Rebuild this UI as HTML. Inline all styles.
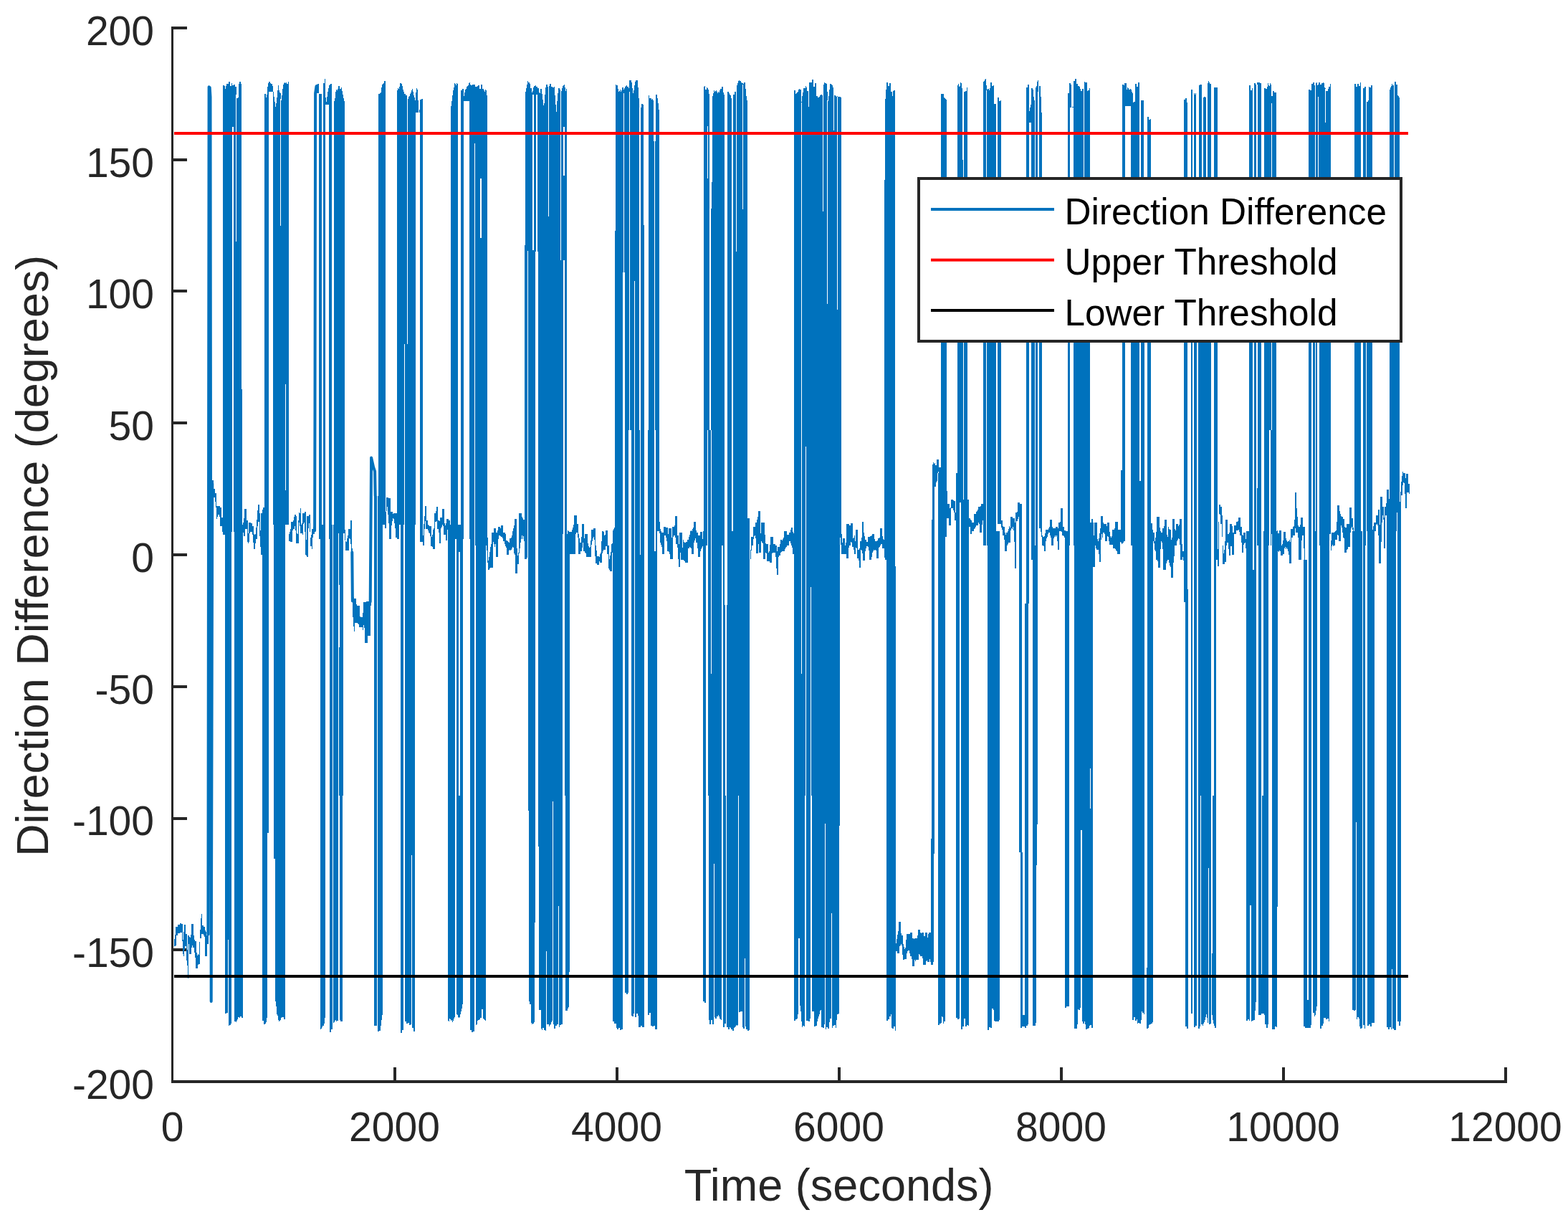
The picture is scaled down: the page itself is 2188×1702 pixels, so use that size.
<!DOCTYPE html>
<html lang="en">
<head>
<meta charset="utf-8">
<title>Direction Difference</title>
<style>
html,body{margin:0;padding:0;background:#fff;}
body{width:2188px;height:1702px;overflow:hidden;}
svg{display:block;}
text{font-family:"Liberation Sans",sans-serif;}
</style>
</head>
<body>
<svg width="2188" height="1702" viewBox="0 0 2188 1702">
<rect width="2188" height="1702" fill="#fff"/>
<g fill="#262626" shape-rendering="crispEdges">
<rect x="239" y="37" width="3" height="1474"/>
<rect x="239" y="1507" width="1864" height="4"/>
<rect x="239" y="1507" width="22" height="4"/>
<rect x="239" y="1323" width="22" height="4"/>
<rect x="239" y="1140" width="22" height="4"/>
<rect x="239" y="956" width="22" height="4"/>
<rect x="239" y="772" width="22" height="4"/>
<rect x="239" y="588" width="22" height="4"/>
<rect x="239" y="404" width="22" height="4"/>
<rect x="239" y="221" width="22" height="4"/>
<rect x="239" y="37" width="22" height="4"/>
<rect x="549" y="1489" width="4" height="22"/>
<rect x="859" y="1489" width="4" height="22"/>
<rect x="1169" y="1489" width="4" height="22"/>
<rect x="1479" y="1489" width="4" height="22"/>
<rect x="1789" y="1489" width="4" height="22"/>
<rect x="2099" y="1489" width="4" height="22"/>
</g>
<path fill="none" stroke="#0072BD" stroke-width="1" shape-rendering="crispEdges" d="M243.5 1310V1320M244.5 1304V1320M245.5 1293V1319M246.5 1293V1305M247.5 1293V1305M248.5 1290V1302M249.5 1290V1302M250.5 1290V1302M251.5 1288V1301M252.5 1288V1301M253.5 1289V1301M254.5 1289V1313M255.5 1311V1331M256.5 1300V1334M257.5 1290V1325M258.5 1290V1320M259.5 1303V1320M260.5 1303V1340M261.5 1325V1347M262.5 1305V1365M263.5 1305V1317M264.5 1307V1331M265.5 1308V1331M266.5 1304V1331M267.5 1289V1322M268.5 1289V1319M269.5 1289V1322M270.5 1305V1322M271.5 1311V1329M272.5 1313V1336M273.5 1313V1351M274.5 1329V1351M275.5 1333V1351M276.5 1331V1346M277.5 1332V1345M278.5 1314V1345M279.5 1297V1309M280.5 1281V1309M281.5 1275V1303M282.5 1291V1303M283.5 1291V1303M284.5 1293V1305M285.5 1293V1307M286.5 1298V1334M287.5 1300V1334M288.5 1305V1334M289.5 1305V1317M290.5 1305V1317M296.5 670V680M297.5 670V687M298.5 682V694M299.5 682V694M300.5 688V700M301.5 688V708M302.5 706V724M303.5 706V721M304.5 706V718M305.5 706V718M306.5 706V721M307.5 708V734M308.5 708V734M309.5 722V734M310.5 722V742M311.5 119V746M312.5 119V746M313.5 120V746M314.5 124V1414M315.5 120V1414M316.5 117V1413M317.5 117V1413M318.5 117V1311M319.5 114V1431M320.5 114V1430M321.5 120V1430M322.5 120V1428M323.5 116V742M324.5 119V177M325.5 119V177M326.5 118V742M327.5 118V1425M328.5 121V1425M329.5 121V132M329.5 337V1426M330.5 137V1424M331.5 137V1422M332.5 136V1419M333.5 117V1419M334.5 114V1420M335.5 114V1418M336.5 117V1418M337.5 543V1420M338.5 732V1420M339.5 729V743M340.5 723V748M341.5 710V748M342.5 710V738M343.5 710V738M344.5 726V738M345.5 726V756M346.5 744V758M347.5 729V756M348.5 729V744M349.5 729V742M350.5 730V742M351.5 730V742M352.5 734V746M353.5 734V757M354.5 745V766M355.5 746V766M356.5 745V758M357.5 736V752M358.5 725V752M359.5 712V734M360.5 704V728M361.5 704V728M362.5 716V748M363.5 740V763M364.5 716V774M365.5 716V774M366.5 711V1424M367.5 708V1424M368.5 708V1429M369.5 131V1429M370.5 131V1428M371.5 136V1426M372.5 132V1420M373.5 121V1162M374.5 116V1162M375.5 114V128M376.5 114V128M377.5 116V128M378.5 117V128M379.5 117V128M380.5 120V128M381.5 128V732M382.5 135V1198M383.5 142V1198M384.5 149V1397M385.5 144V1404M386.5 136V1415M387.5 126V1417M388.5 119V1423M389.5 126V1425M390.5 129V1424M391.5 130V138M391.5 315V1423M392.5 140V1420M393.5 133V1419M394.5 124V1419M395.5 118V1419M396.5 116V1422M397.5 115V1422M398.5 116V536M398.5 684V732M399.5 115V732M400.5 117V732M401.5 117V732M402.5 114V732M403.5 745V755M404.5 742V755M405.5 738V756M406.5 728V756M407.5 728V756M408.5 728V740M409.5 726V738M410.5 721V738M411.5 718V734M412.5 718V740M413.5 720V758M414.5 744V758M415.5 745V758M416.5 726V758M417.5 715V729M418.5 716V734M419.5 709V744M420.5 732V744M421.5 730V744M422.5 716V746M423.5 716V731M424.5 716V729M425.5 714V742M426.5 714V774M427.5 753V775M428.5 720V777M429.5 720V777M430.5 720V737M431.5 718V730M432.5 718V742M433.5 750V762M434.5 746V762M435.5 738V766M436.5 738V750M437.5 735V745M438.5 735V745M441.5 118V130M442.5 118V130M443.5 117V130M444.5 117V130M445.5 131V752M446.5 131V752M447.5 131V1436M448.5 131V1435M449.5 732V1433M450.5 732V1431M451.5 116V1431M452.5 116V1428M453.5 110V1420M454.5 136V146M455.5 142V146M456.5 135V146M457.5 128V146M458.5 123V146M459.5 119V752M460.5 118V1440M461.5 117V1440M462.5 117V1436M463.5 732V1436M465.5 732V1427M466.5 141V1426M467.5 137V1424M468.5 128V1423M469.5 125V1425M470.5 126V1424M471.5 124V1424M472.5 120V744M473.5 120V816M473.5 903V1110M474.5 124V1423M475.5 124V1425M476.5 122V1425M477.5 127V1425M478.5 132V1110M479.5 137V744M480.5 141V744M481.5 739V754M482.5 755V768M483.5 756V768M484.5 751V768M485.5 747V768M486.5 738V768M487.5 738V751M488.5 738V752M489.5 726V759M490.5 726V775M491.5 765V775M492.5 833V861M493.5 833V874M494.5 835V881M495.5 835V869M496.5 835V869M497.5 843V869M498.5 845V869M499.5 845V870M500.5 845V871M501.5 845V875M502.5 860V875M503.5 861V875M504.5 861V875M505.5 861V875M506.5 855V879M507.5 840V872M508.5 840V876M509.5 840V897M510.5 840V897M511.5 839V897M512.5 839V897M513.5 839V887M514.5 839V887M515.5 835V887M516.5 835V887M517.5 835V845M522.5 692V1431M523.5 692V1431M524.5 692V1431M525.5 692V1431M527.5 692V1439M528.5 131V1439M529.5 131V1438M530.5 130V1438M531.5 129V1431M532.5 122V1423M533.5 118V1416M534.5 117V732M535.5 116V732M536.5 113V732M537.5 113V737M538.5 714V737M539.5 694V713M540.5 694V707M541.5 694V718M542.5 695V730M543.5 695V752M544.5 695V752M545.5 714V752M546.5 714V733M547.5 714V727M548.5 717V723M549.5 716V724M550.5 716V730M551.5 716V737M552.5 716V750M553.5 716V750M554.5 126V752M555.5 123V752M556.5 124V752M557.5 121V732M558.5 116V732M559.5 116V1441M560.5 117V1441M561.5 120V1437M562.5 125V1437M563.5 128V732M564.5 131V480M565.5 131V1425M566.5 133V1425M567.5 133V1428M568.5 480V1428M569.5 138V1427M570.5 135V1427M571.5 134V1430M572.5 131V1430M573.5 129V1429M574.5 126V1193M575.5 124V1434M576.5 128V1434M577.5 133V1439M578.5 136V1439M579.5 140V732M580.5 129V157M581.5 123V157M582.5 125V157M583.5 140V157M585.5 153V157M586.5 139V756M587.5 139V756M588.5 138V756M589.5 138V756M590.5 747V761M591.5 731V761M592.5 720V738M593.5 706V727M594.5 706V738M595.5 726V738M596.5 726V738M597.5 732V740M598.5 733V743M599.5 734V744M600.5 734V748M601.5 734V762M602.5 749V762M603.5 746V763M604.5 739V766M605.5 737V766M606.5 716V766M607.5 716V728M608.5 713V728M609.5 707V727M610.5 707V738M611.5 726V738M612.5 726V743M613.5 727V758M614.5 722V758M615.5 722V737M616.5 722V735M617.5 710V732M618.5 710V734M619.5 710V746M620.5 730V746M621.5 733V746M622.5 730V754M623.5 724V754M624.5 724V739M625.5 724V1424M626.5 726V1425M627.5 726V1421M628.5 732V1422M629.5 148V1424M630.5 141V1423M631.5 133V1426M632.5 126V1424M633.5 122V1421M634.5 116V1419M635.5 117V752M636.5 119V752M637.5 116V1415M638.5 117V1416M639.5 732V1419M640.5 732V770M640.5 1110V1420M641.5 732V770M641.5 1110V1419M642.5 732V1415M643.5 126V1411M644.5 126V1407M645.5 124V1401M646.5 124V752M647.5 134V141M648.5 129V141M649.5 125V141M650.5 124V141M651.5 121V141M652.5 120V141M653.5 119V141M654.5 116V141M655.5 115V752M656.5 118V1437M657.5 119V1437M658.5 119V1440M659.5 118V1440M660.5 118V1439M661.5 118V1439M662.5 118V200M663.5 121V761M664.5 121V1430M665.5 121V1429M666.5 120V1424M667.5 119V1423M668.5 119V1423M669.5 124V1422M670.5 124V249M670.5 332V1420M671.5 118V249M671.5 332V1420M672.5 118V1408M673.5 124V1408M674.5 124V1421M675.5 126V1422M676.5 128V1423M677.5 125V1424M678.5 126V761M679.5 133V768M680.5 750V785M681.5 782V795M682.5 777V795M683.5 770V793M684.5 763V792M685.5 759V792M686.5 743V792M687.5 743V792M688.5 743V756M689.5 737V759M690.5 737V763M691.5 737V759M692.5 743V777M693.5 743V777M694.5 740V777M695.5 735V752M696.5 735V747M697.5 735V747M698.5 737V748M699.5 733V749M700.5 733V749M701.5 733V751M702.5 743V755M703.5 743V755M704.5 743V759M705.5 745V762M706.5 754V764M707.5 754V774M708.5 755V774M709.5 756V774M710.5 757V768M711.5 751V767M712.5 751V768M713.5 750V767M714.5 747V765M715.5 741V763M716.5 737V764M717.5 733V772M718.5 724V774M719.5 724V800M720.5 724V800M721.5 765V800M722.5 775V787M723.5 771V787M724.5 716V772M725.5 716V765M726.5 716V757M727.5 716V752M728.5 721V747M729.5 723V752M730.5 725V748M731.5 725V755M732.5 342V780M733.5 128V780M734.5 123V780M735.5 118V778M736.5 113V350M737.5 115V1131M738.5 115V1397M739.5 117V1401M740.5 123V1401M741.5 123V1427M742.5 129V1429M743.5 127V132M743.5 349V1428M744.5 122V132M744.5 349V1428M745.5 120V1426M746.5 120V1287M747.5 119V351M748.5 121V132M749.5 121V132M750.5 123V351M751.5 123V1181M752.5 129V1409M753.5 130V1409M754.5 124V1409M755.5 124V1435M756.5 131V1437M757.5 139V1434M758.5 147V1434M759.5 144V1437M760.5 132V1437M761.5 122V1438M762.5 118V1327M763.5 118V1429M764.5 121V1429M765.5 302V1429M766.5 120V1432M767.5 117V1430M768.5 117V1429M769.5 121V1426M770.5 121V1424M771.5 122V1118M772.5 122V1429M773.5 121V1435M774.5 133V1435M775.5 146V1431M776.5 156V1431M777.5 141V1429M778.5 130V1429M779.5 123V1264M780.5 123V1433M781.5 125V1430M782.5 363V1430M783.5 127V1429M784.5 123V1429M785.5 120V745M786.5 119V177M786.5 245V363M787.5 118V177M787.5 245V363M788.5 122V1110M789.5 127V1410M790.5 124V1410M791.5 745V1410M792.5 740V1407M793.5 741V1405M794.5 742V1356M795.5 742V773M796.5 742V773M797.5 742V773M798.5 739V773M799.5 736V773M800.5 732V773M801.5 719V773M802.5 719V773M803.5 719V745M804.5 719V743M805.5 731V743M806.5 731V750M807.5 745V773M808.5 751V773M809.5 757V773M810.5 757V769M811.5 749V769M812.5 731V764M813.5 731V757M814.5 731V769M815.5 751V769M816.5 745V771M817.5 745V772M818.5 745V777M819.5 745V777M820.5 758V777M821.5 762V777M822.5 764V777M823.5 763V777M824.5 754V777M825.5 739V760M826.5 739V755M827.5 739V751M828.5 737V749M829.5 737V753M830.5 737V776M831.5 761V786M832.5 768V786M833.5 776V788M834.5 776V788M835.5 776V788M836.5 777V783M837.5 773V785M838.5 771V785M839.5 755V785M840.5 741V772M841.5 741V769M842.5 742V767M843.5 747V767M844.5 746V767M845.5 740V762M846.5 740V762M847.5 740V773M848.5 761V773M849.5 761V793M850.5 780V795M851.5 775V797M852.5 770V797M853.5 759V797M854.5 758V771M855.5 740V1425M856.5 738V1425M857.5 736V1428M858.5 322V1428M859.5 118V1428M860.5 119V1434M861.5 119V1436M862.5 124V1436M863.5 128V1434M864.5 127V1434M865.5 125V1437M866.5 128V1437M867.5 126V1436M868.5 122V1436M869.5 122V380M870.5 125V130M871.5 123V380M872.5 121V1385M873.5 120V1385M874.5 119V1387M875.5 121V1387M876.5 121V1385M877.5 123V600M878.5 112V128M879.5 112V600M880.5 112V600M881.5 115V1417M882.5 123V1418M883.5 130V1418M884.5 126V1414M885.5 119V392M886.5 114V1419M887.5 112V1419M888.5 112V1414M889.5 112V1414M890.5 122V1417M891.5 137V1433M892.5 600V1433M893.5 774V1433M894.5 150V1431M895.5 145V1431M896.5 145V1433M897.5 146V1433M898.5 314V1433M904.5 600V1416M905.5 133V1416M906.5 137V1413M907.5 137V1413M908.5 137V1431M909.5 139V1431M910.5 138V1432M911.5 140V1432M912.5 197V1431M913.5 769V1431M914.5 197V600M914.5 769V1436M915.5 132V1436M916.5 132V1436M917.5 137V741M918.5 144V741M919.5 153V741M920.5 728V744M921.5 738V757M922.5 741V760M923.5 743V763M924.5 743V773M925.5 743V773M926.5 735V773M927.5 735V747M928.5 735V747M929.5 736V750M930.5 736V755M931.5 736V769M932.5 745V769M933.5 737V770M934.5 737V773M935.5 737V780M936.5 737V780M937.5 750V780M938.5 735V780M939.5 735V749M940.5 735V747M941.5 733V747M942.5 720V750M943.5 720V759M944.5 720V759M945.5 747V764M946.5 747V780M947.5 759V791M948.5 743V791M949.5 743V771M950.5 743V781M951.5 743V781M952.5 764V781M953.5 753V781M954.5 756V782M955.5 757V783M956.5 757V785M957.5 756V785M958.5 756V785M959.5 753V785M960.5 753V765M961.5 749V765M962.5 746V763M963.5 741V764M964.5 740V765M965.5 741V773M966.5 738V773M967.5 736V773M968.5 728V757M969.5 728V754M970.5 728V751M971.5 740V757M972.5 743V757M973.5 743V765M974.5 747V777M975.5 747V777M976.5 747V777M977.5 742V769M978.5 742V766M979.5 742V764M980.5 752V762M981.5 741V1397M982.5 121V1397M983.5 120V1399M984.5 125V1399M985.5 125V761M986.5 122V761M987.5 123V176M987.5 249V600M988.5 125V1110M989.5 131V1423M990.5 600V1429M991.5 600V1429M992.5 291V600M992.5 940V1423M993.5 254V1423M994.5 134V1429M995.5 130V1429M996.5 126V1205M997.5 128V1419M998.5 127V1421M999.5 126V1421M1000.5 128V1418M1001.5 130V1418M1002.5 128V1416M1003.5 129V1418M1004.5 126V1421M1005.5 124V1422M1006.5 124V1423M1007.5 121V761M1008.5 121V761M1009.5 129V1433M1010.5 132V1433M1011.5 844V1428M1012.5 1110V1428M1014.5 844V1433M1015.5 128V1433M1016.5 128V1436M1017.5 130V1436M1018.5 132V1433M1019.5 133V1434M1020.5 137V1436M1021.5 741V1436M1022.5 741V1438M1023.5 132V1438M1024.5 132V1434M1025.5 128V1433M1026.5 128V1432M1027.5 351V1430M1028.5 119V1431M1029.5 116V1430M1030.5 113V1110M1031.5 112V1412M1032.5 113V1412M1033.5 113V1411M1034.5 115V1411M1035.5 116V1411M1036.5 116V118M1036.5 292V1433M1037.5 117V1435M1038.5 115V1435M1039.5 115V1337M1040.5 124V1432M1041.5 134V1436M1042.5 140V1436M1043.5 723V1438M1044.5 723V1438M1045.5 723V1437M1047.5 767V780M1048.5 749V768M1049.5 749V761M1050.5 749V761M1051.5 735V752M1052.5 735V748M1053.5 735V747M1054.5 729V751M1055.5 729V772M1056.5 725V772M1057.5 721V772M1058.5 713V759M1059.5 713V771M1060.5 713V771M1061.5 744V771M1062.5 729V755M1063.5 729V757M1064.5 729V758M1065.5 729V780M1066.5 729V780M1067.5 746V780M1068.5 758V771M1069.5 759V772M1070.5 759V783M1071.5 759V783M1072.5 771V783M1073.5 769V783M1074.5 760V785M1075.5 749V785M1076.5 749V785M1077.5 749V772M1078.5 749V771M1079.5 759V771M1080.5 759V771M1081.5 759V771M1082.5 761V777M1083.5 761V793M1084.5 769V802M1085.5 763V802M1086.5 763V777M1087.5 763V775M1088.5 759V775M1089.5 753V771M1090.5 753V770M1091.5 754V769M1092.5 752V769M1093.5 750V769M1094.5 741V769M1095.5 741V766M1096.5 741V764M1097.5 741V763M1098.5 746V761M1099.5 746V761M1100.5 746V761M1101.5 743V755M1102.5 743V755M1103.5 739V758M1104.5 736V761M1105.5 736V764M1106.5 742V773M1107.5 744V773M1108.5 126V1424M1109.5 126V1424M1110.5 131V1422M1111.5 130V1422M1112.5 129V1421M1113.5 128V1415M1114.5 125V1309M1115.5 124V1309M1116.5 125V1403M1117.5 125V1411M1118.5 142V143M1118.5 940V1425M1119.5 134V1433M1120.5 129V1431M1121.5 123V1431M1122.5 123V1432M1123.5 123V1110M1124.5 120V623M1125.5 122V1424M1126.5 127V1424M1127.5 127V1424M1128.5 149V1425M1129.5 115V1425M1130.5 115V1421M1131.5 115V819M1132.5 115V1110M1133.5 111V1411M1134.5 111V1411M1135.5 121V1411M1136.5 121V1432M1137.5 116V1432M1138.5 116V1431M1139.5 134V1431M1140.5 134V1425M1141.5 136V1421M1142.5 136V1418M1143.5 135V1415M1144.5 133V1410M1145.5 132V1409M1146.5 132V1433M1147.5 133V1433M1148.5 295V1434M1149.5 118V1434M1150.5 115V1429M1151.5 116V1149M1152.5 116V1436M1153.5 117V1433M1154.5 128V140M1154.5 424V1433M1155.5 141V1435M1156.5 134V1435M1157.5 125V1426M1158.5 117V1421M1159.5 117V1421M1160.5 118V1274M1161.5 119V1434M1162.5 122V1431M1163.5 182V1431M1164.5 133V1430M1165.5 133V1430M1166.5 134V1434M1167.5 135V1423M1168.5 134V135M1168.5 432V1415M1169.5 135V1415M1170.5 135V1414M1171.5 135V1152M1172.5 135V750M1173.5 136V760M1174.5 745V773M1175.5 757V773M1176.5 751V773M1177.5 751V773M1178.5 751V773M1179.5 761V773M1180.5 757V773M1181.5 731V779M1182.5 731V779M1183.5 731V779M1184.5 731V764M1185.5 733V761M1186.5 733V761M1187.5 730V756M1188.5 730V757M1189.5 730V763M1190.5 751V763M1191.5 750V767M1192.5 747V773M1193.5 755V773M1194.5 739V764M1195.5 739V765M1196.5 739V779M1197.5 767V779M1198.5 767V782M1199.5 765V792M1200.5 755V792M1201.5 755V767M1202.5 750V768M1203.5 728V772M1204.5 728V782M1205.5 743V782M1206.5 748V782M1207.5 753V769M1208.5 753V765M1209.5 756V762M1210.5 756V762M1211.5 749V763M1212.5 749V768M1213.5 749V781M1214.5 748V781M1215.5 748V781M1216.5 747V777M1217.5 745V771M1218.5 745V769M1219.5 745V767M1220.5 752V768M1221.5 755V767M1222.5 755V768M1223.5 755V779M1224.5 754V779M1225.5 751V779M1226.5 751V764M1227.5 750V763M1228.5 737V761M1229.5 737V759M1230.5 737V759M1231.5 748V765M1232.5 752V765M1233.5 753V765M1234.5 251V778M1235.5 138V781M1236.5 125V781M1237.5 115V1424M1238.5 115V1424M1239.5 120V1422M1240.5 120V1422M1241.5 116V1418M1242.5 116V1418M1243.5 128V1415M1244.5 128V1434M1245.5 134V1435M1246.5 127V1435M1247.5 126V1432M1248.5 126V1432M1249.5 790V1438M1250.5 1316V1327M1251.5 1310V1327M1252.5 1304V1330M1253.5 1299V1330M1254.5 1286V1330M1255.5 1286V1320M1256.5 1286V1319M1257.5 1302V1317M1258.5 1305V1319M1259.5 1305V1332M1260.5 1317V1339M1261.5 1321V1339M1262.5 1324V1338M1263.5 1322V1338M1264.5 1311V1338M1265.5 1303V1330M1266.5 1303V1327M1267.5 1303V1326M1268.5 1303V1326M1269.5 1303V1330M1270.5 1301V1334M1271.5 1301V1334M1272.5 1301V1338M1273.5 1309V1348M1274.5 1309V1348M1275.5 1310V1348M1276.5 1309V1339M1277.5 1309V1341M1278.5 1309V1339M1279.5 1309V1339M1280.5 1305V1339M1281.5 1297V1339M1282.5 1297V1331M1283.5 1297V1332M1284.5 1301V1334M1285.5 1302V1334M1286.5 1301V1334M1287.5 1301V1337M1288.5 1301V1346M1289.5 1306V1346M1290.5 1306V1346M1291.5 1301V1346M1292.5 1301V1341M1293.5 1301V1340M1294.5 1308V1342M1295.5 1303V1342M1296.5 1301V1342M1297.5 1301V1338M1298.5 1301V1342M1299.5 1170V1346M1300.5 725V1346M1301.5 648V1346M1302.5 645V1342M1303.5 647V1191M1304.5 646V679M1305.5 649V679M1306.5 649V673M1307.5 641V671M1308.5 641V660M1309.5 641V658M1309.5 660V1430M1310.5 652V1430M1311.5 652V1428M1312.5 652V1428M1313.5 131V1427M1314.5 131V1418M1315.5 131V1419M1316.5 131V1428M1317.5 136V1425M1318.5 137V1425M1319.5 138V749M1320.5 139V749M1321.5 685V723M1322.5 703V723M1323.5 703V723M1324.5 703V733M1325.5 709V733M1326.5 708V733M1327.5 697V709M1328.5 697V709M1329.5 697V709M1330.5 698V712M1331.5 699V715M1332.5 699V726M1333.5 715V726M1334.5 660V1420M1335.5 660V1420M1336.5 119V1422M1337.5 117V1422M1338.5 121V1421M1339.5 120V701M1340.5 115V701M1341.5 116V1436M1342.5 123V1436M1343.5 223V1432M1344.5 697V1432M1345.5 128V1421M1346.5 128V1421M1347.5 127V1432M1348.5 127V1432M1349.5 122V1430M1350.5 697V1430M1351.5 697V1431M1352.5 723V735M1353.5 723V735M1354.5 725V745M1355.5 726V745M1356.5 729V741M1357.5 729V741M1358.5 729V741M1359.5 717V738M1360.5 717V737M1361.5 717V735M1362.5 714V733M1363.5 713V733M1364.5 711V733M1365.5 707V729M1366.5 707V731M1367.5 707V743M1368.5 706V743M1369.5 703V743M1370.5 703V732M1371.5 703V726M1372.5 114V761M1373.5 113V761M1374.5 111V761M1375.5 110V761M1376.5 119V126M1377.5 125V761M1378.5 124V1437M1379.5 124V1437M1380.5 126V1433M1381.5 123V1433M1382.5 115V1434M1383.5 115V1434M1384.5 120V1407M1385.5 120V1407M1386.5 119V1409M1387.5 145V1424M1388.5 145V1425M1389.5 145V1425M1390.5 741V1425M1391.5 741V1425M1392.5 136V731M1392.5 741V1425M1393.5 136V731M1393.5 741V1425M1394.5 141V731M1394.5 741V1423M1395.5 141V731M1396.5 140V731M1397.5 726V736M1398.5 726V739M1399.5 734V747M1400.5 735V747M1401.5 735V753M1402.5 743V769M1403.5 746V769M1404.5 743V769M1405.5 743V761M1406.5 741V759M1407.5 738V757M1408.5 734V757M1409.5 736V757M1410.5 721V740M1411.5 721V737M1412.5 721V738M1413.5 723V735M1414.5 723V740M1415.5 723V756M1416.5 729V793M1417.5 715V793M1418.5 715V727M1419.5 714V727M1420.5 701V724M1421.5 701V721M1422.5 701V1189M1423.5 703V1189M1424.5 703V1434M1425.5 703V1434M1426.5 1189V1432M1427.5 1416V1432M1428.5 1416V1432M1429.5 1416V1432M1430.5 842V1434M1431.5 842V1434M1432.5 122V1431M1433.5 122V1431M1434.5 118V1429M1435.5 118V842M1436.5 155V171M1437.5 150V171M1438.5 146V171M1439.5 123V781M1440.5 123V781M1441.5 125V1431M1442.5 135V1431M1443.5 140V1431M1444.5 761V1431M1445.5 122V1427M1446.5 120V1207M1447.5 114V1150M1448.5 112V128M1450.5 120V737M1451.5 120V737M1452.5 135V742M1453.5 157V749M1454.5 747V761M1455.5 749V761M1456.5 749V762M1457.5 748V769M1458.5 744V769M1459.5 739V755M1460.5 739V751M1461.5 739V749M1462.5 739V745M1463.5 737V743M1464.5 735V743M1465.5 725V747M1466.5 725V750M1467.5 725V761M1468.5 735V761M1469.5 737V761M1470.5 737V751M1471.5 737V749M1472.5 737V747M1473.5 735V749M1474.5 735V747M1475.5 735V755M1476.5 737V767M1477.5 729V767M1478.5 729V741M1479.5 728V741M1480.5 709V741M1481.5 709V742M1482.5 709V747M1483.5 735V747M1484.5 735V748M1485.5 740V750M1486.5 740V1406M1487.5 741V1406M1488.5 741V1404M1489.5 741V1404M1490.5 130V1404M1491.5 130V1404M1492.5 116V761M1493.5 116V150M1494.5 118V150M1496.5 149V150M1497.5 149V150M1498.5 113V761M1499.5 113V1435M1500.5 110V1435M1501.5 110V1435M1502.5 117V1435M1503.5 117V1429M1504.5 120V1408M1505.5 120V1409M1506.5 121V1409M1507.5 124V1406M1508.5 127V1158M1509.5 127V1158M1510.5 124V1425M1511.5 124V1428M1512.5 271V1428M1513.5 114V1425M1514.5 115V1429M1515.5 115V1436M1516.5 115V1436M1517.5 127V1435M1518.5 126V1435M1519.5 126V1434M1520.5 123V1431M1521.5 729V1072M1521.5 1128V1430M1522.5 729V1430M1523.5 724V1434M1524.5 724V1434M1525.5 729V791M1526.5 747V791M1527.5 729V791M1528.5 729V761M1529.5 729V765M1530.5 729V767M1531.5 752V767M1532.5 755V767M1533.5 751V773M1534.5 744V784M1535.5 737V784M1536.5 720V753M1537.5 720V745M1538.5 720V750M1539.5 729V743M1540.5 731V743M1541.5 731V745M1542.5 731V755M1543.5 731V755M1544.5 734V755M1545.5 729V748M1546.5 729V749M1547.5 729V755M1548.5 742V760M1549.5 748V760M1550.5 750V760M1551.5 748V760M1552.5 739V760M1553.5 739V765M1554.5 739V765M1555.5 737V765M1556.5 728V766M1557.5 728V768M1558.5 728V769M1559.5 728V773M1560.5 739V773M1561.5 739V773M1562.5 739V773M1563.5 739V756M1564.5 656V757M1565.5 656V759M1566.5 118V758M1567.5 118V757M1568.5 119V755M1569.5 116V755M1570.5 116V148M1571.5 116V148M1572.5 125V148M1573.5 122V148M1574.5 123V148M1575.5 125V148M1576.5 125V148M1577.5 124V148M1578.5 125V761M1579.5 128V761M1580.5 130V1423M1581.5 143V1423M1582.5 142V1419M1583.5 142V1419M1584.5 117V1424M1585.5 117V1424M1586.5 121V1422M1587.5 121V1428M1588.5 115V1427M1589.5 115V1427M1590.5 671V1428M1591.5 671V1428M1592.5 140V1423M1593.5 140V1411M1594.5 140V1413M1595.5 140V1413M1596.5 332V1415M1600.5 1350V1435M1601.5 163V1435M1602.5 163V1434M1603.5 167V1430M1604.5 167V1429M1605.5 166V1429M1606.5 730V1428M1607.5 730V1428M1608.5 739V1426M1609.5 743V755M1610.5 743V758M1611.5 755V767M1612.5 750V769M1613.5 742V781M1614.5 721V781M1615.5 721V783M1616.5 721V792M1617.5 721V792M1618.5 736V792M1619.5 741V766M1620.5 743V755M1621.5 743V757M1622.5 737V766M1623.5 737V795M1624.5 734V795M1625.5 725V795M1626.5 725V795M1627.5 725V786M1628.5 746V783M1629.5 749V781M1630.5 735V781M1631.5 738V785M1632.5 739V789M1633.5 739V791M1634.5 753V806M1635.5 750V806M1636.5 724V806M1637.5 724V785M1638.5 724V776M1639.5 738V761M1640.5 740V761M1641.5 731V761M1642.5 731V755M1643.5 731V753M1644.5 734V751M1645.5 732V752M1646.5 724V760M1647.5 724V781M1648.5 724V781M1649.5 759V781M1650.5 769V777M1651.5 769V782M1652.5 139V840M1653.5 139V840M1654.5 137V1432M1655.5 137V1432M1656.5 143V1435M1657.5 822V1435M1662.5 125V1414M1663.5 125V1414M1666.5 130V1433M1667.5 132V1433M1668.5 130V1431M1669.5 247V1431M1672.5 247V1435M1673.5 119V1435M1674.5 118V1432M1675.5 118V1110M1676.5 118V1429M1677.5 247V1429M1678.5 247V1431M1679.5 136V1428M1680.5 135V1426M1681.5 135V1423M1682.5 136V1419M1683.5 247V1415M1684.5 247V1420M1685.5 116V1427M1686.5 113V1211M1687.5 115V1429M1688.5 117V1429M1689.5 117V1428M1691.5 1330V1416M1692.5 1110V1423M1693.5 1110V1428M1694.5 122V1431M1695.5 122V1434M1696.5 122V1434M1697.5 122V781M1698.5 122V781M1699.5 766V790M1700.5 728V790M1701.5 704V717M1702.5 704V718M1703.5 707V731M1704.5 707V731M1705.5 719V749M1706.5 761V787M1707.5 772V787M1708.5 767V787M1709.5 755V784M1710.5 725V784M1711.5 725V761M1712.5 725V757M1713.5 745V757M1714.5 745V766M1715.5 743V775M1716.5 731V775M1717.5 731V762M1718.5 731V762M1719.5 734V774M1720.5 743V774M1721.5 743V774M1722.5 733V745M1723.5 733V745M1724.5 733V745M1725.5 728V740M1726.5 728V740M1727.5 727V740M1728.5 722V739M1729.5 722V742M1730.5 722V747M1731.5 735V747M1732.5 735V757M1733.5 746V771M1734.5 747V771M1735.5 743V760M1736.5 743V758M1737.5 743V757M1738.5 752V765M1739.5 741V1424M1740.5 741V1424M1741.5 741V1422M1742.5 741V1422M1743.5 119V1424M1744.5 119V1263M1745.5 126V1263M1746.5 126V1425M1747.5 123V1424M1748.5 795V1424M1749.5 795V1423M1750.5 116V1423M1751.5 116V1410M1752.5 118V1398M1754.5 115V118M1754.5 681V761M1755.5 115V761M1756.5 115V1416M1757.5 115V1416M1758.5 116V1416M1759.5 116V1416M1760.5 1359V1414M1761.5 1110V1414M1762.5 1110V1414M1763.5 741V1414M1764.5 123V1416M1765.5 123V1429M1766.5 124V1429M1767.5 124V1434M1768.5 121V1434M1769.5 116V1429M1770.5 119V761M1771.5 120V600M1772.5 116V600M1773.5 118V761M1774.5 134V144M1774.5 600V745M1775.5 134V1436M1776.5 127V1436M1777.5 127V1436M1778.5 129V1436M1779.5 129V1432M1780.5 129V1432M1781.5 741V1433M1782.5 740V1265M1783.5 744V769M1784.5 744V770M1785.5 740V768M1786.5 740V769M1787.5 740V775M1788.5 761V775M1789.5 759V775M1790.5 754V773M1791.5 742V773M1792.5 742V765M1793.5 742V763M1794.5 751V766M1795.5 754V764M1796.5 756V766M1797.5 755V769M1798.5 755V774M1799.5 753V786M1800.5 756V786M1801.5 738V786M1802.5 738V750M1803.5 738V750M1804.5 735V747M1805.5 734V747M1806.5 725V747M1807.5 687V737M1808.5 687V743M1809.5 709V743M1810.5 721V743M1811.5 733V750M1812.5 735V781M1813.5 735V781M1814.5 732V781M1815.5 722V781M1816.5 722V754M1817.5 722V747M1818.5 735V747M1819.5 735V765M1819.5 781V1432M1820.5 735V1432M1821.5 781V1434M1822.5 781V1434M1823.5 781V1434M1824.5 1395V1434M1825.5 1395V1434M1826.5 125V1434M1827.5 125V1434M1828.5 126V1434M1829.5 126V1430M1830.5 117V247M1831.5 117V247M1832.5 115V1413M1833.5 115V1413M1834.5 119V1418M1835.5 741V1416M1836.5 116V1410M1837.5 115V1404M1838.5 119V247M1839.5 118V135M1840.5 115V247M1841.5 115V761M1842.5 118V1435M1843.5 118V1435M1844.5 116V1431M1845.5 116V1431M1846.5 115V1428M1847.5 116V1420M1848.5 122V1420M1849.5 123V124M1849.5 171V1420M1850.5 127V1422M1851.5 127V1422M1852.5 127V1421M1853.5 124V1421M1854.5 121V1425M1855.5 121V745M1856.5 117V745M1857.5 754V768M1858.5 743V762M1859.5 743V760M1860.5 743V762M1861.5 743V761M1862.5 742V761M1863.5 741V753M1864.5 740V753M1865.5 728V753M1866.5 705V746M1867.5 705V747M1868.5 705V755M1869.5 713V755M1870.5 717V755M1871.5 720V733M1872.5 721V736M1873.5 721V743M1874.5 724V750M1875.5 724V751M1876.5 735V771M1877.5 736V771M1878.5 736V771M1879.5 731V767M1880.5 731V766M1881.5 731V763M1882.5 731V763M1883.5 708V763M1884.5 708V743M1885.5 708V737M1886.5 723V735M1887.5 723V739M1887.5 741V1409M1888.5 736V1409M1889.5 741V1410M1890.5 117V1410M1891.5 117V1409M1892.5 121V1147M1893.5 121V1422M1894.5 117V1419M1895.5 117V1419M1896.5 120V1421M1897.5 120V1432M1898.5 115V1435M1899.5 741V1435M1900.5 741V1434M1902.5 123V1430M1903.5 123V1430M1904.5 121V1435M1905.5 121V761M1907.5 142V741M1908.5 142V1431M1909.5 140V1431M1910.5 121V1429M1911.5 122V1429M1912.5 122V1432M1913.5 119V1432M1914.5 119V1427M1915.5 739V1427M1916.5 734V1427M1917.5 729V1427M1918.5 729V741M1919.5 729V741M1920.5 719V732M1921.5 719V731M1922.5 719V733M1923.5 711V747M1924.5 711V786M1925.5 732V786M1926.5 693V786M1927.5 693V756M1928.5 693V729M1929.5 707V719M1930.5 707V725M1931.5 722V765M1932.5 707V765M1933.5 707V719M1934.5 702V719M1935.5 683V1433M1936.5 683V1433M1937.5 683V1436M1938.5 696V1436M1939.5 125V1433M1940.5 122V1433M1941.5 120V1436M1942.5 117V1352M1943.5 119V1435M1944.5 119V1435M1945.5 247V1437M1946.5 114V1437M1947.5 114V1437M1948.5 118V741M1949.5 118V715M1950.5 133V1425M1951.5 134V1425M1952.5 136V1431M1953.5 700V1431M1954.5 686V1425M1955.5 672V691M1956.5 664V691M1957.5 658V677M1958.5 660V673M1959.5 660V674M1960.5 660V689M1961.5 667V709M1962.5 661V709M1963.5 661V687M1964.5 661V687M1965.5 675V687M1966.5 675V689"/>
<path fill="none" stroke="#0072BD" stroke-width="4" stroke-linejoin="round" stroke-linecap="round" d="M290.4 1303.4L291.6 121.2L292.7 122.2L293.5 135.3L294.7 1397.1L296.3 674.8
M439.1 740.3L439.5 571L440.1 130.3L441.5 120.2
M491.3 770.5L491.9 838.5
M516.7 839.5L518.1 638.5L521.1 651.6L523.1 657.7L523.7 691.9"/>
<rect x="243" y="184" width="1722" height="4" fill="#FF0000" shape-rendering="crispEdges"/>
<rect x="243" y="1360" width="1722" height="4" fill="#000000" shape-rendering="crispEdges"/>
<g fill="#262626" font-size="57.0">
<text x="215.0" y="1532.9" text-anchor="end">-200</text>
<text x="215.0" y="1349.2" text-anchor="end">-150</text>
<text x="215.0" y="1165.4" text-anchor="end">-100</text>
<text x="215.0" y="981.6" text-anchor="end">-50</text>
<text x="215.0" y="797.9" text-anchor="end">0</text>
<text x="215.0" y="614.1" text-anchor="end">50</text>
<text x="215.0" y="430.4" text-anchor="end">100</text>
<text x="215.0" y="246.7" text-anchor="end">150</text>
<text x="215.0" y="62.9" text-anchor="end">200</text>
<text x="240.5" y="1592.2" text-anchor="middle">0</text>
<text x="550.5" y="1592.2" text-anchor="middle">2000</text>
<text x="860.5" y="1592.2" text-anchor="middle">4000</text>
<text x="1170.5" y="1592.2" text-anchor="middle">6000</text>
<text x="1480.5" y="1592.2" text-anchor="middle">8000</text>
<text x="1790.5" y="1592.2" text-anchor="middle">10000</text>
<text x="2100.5" y="1592.2" text-anchor="middle">12000</text>
</g>
<g fill="#262626" font-size="63.0">
<text x="1170.6" y="1675" text-anchor="middle">Time (seconds)</text>
<text transform="translate(67 775.3) rotate(-90)" text-anchor="middle">Direction Difference (degrees)</text>
</g>
<rect x="1280" y="247" width="677" height="231" fill="#262626" shape-rendering="crispEdges"/>
<rect x="1284" y="251" width="669" height="223" fill="#fff" shape-rendering="crispEdges"/>
<rect x="1299" y="290.0" width="172" height="4" fill="#0072BD"/>
<rect x="1299" y="360.7" width="172" height="4" fill="#FF0000"/>
<rect x="1299" y="431.0" width="172" height="4" fill="#000000"/>
<g fill="#000" font-size="51.3">
<text x="1485.4" y="312.6">Direction Difference</text>
<text x="1485.4" y="383.3">Upper Threshold</text>
<text x="1485.4" y="453.8">Lower Threshold</text>
</g>
</svg>
</body>
</html>
